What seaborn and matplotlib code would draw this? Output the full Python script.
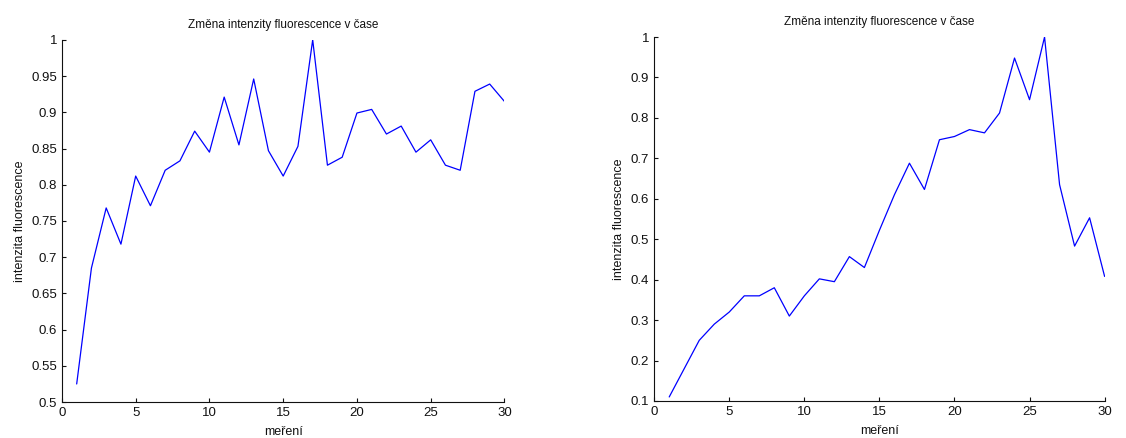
import numpy as np
import pandas as pd
import matplotlib
matplotlib.use("Agg")
import matplotlib.pyplot as plt
import seaborn as sns

# ================= Data =================
mereni = list(range(1, 31))
intenzita_a = [0.525, 0.685, 0.768, 0.718, 0.812, 0.771, 0.820, 0.833, 0.874, 0.845,
               0.921, 0.855, 0.946, 0.847, 0.812, 0.853, 1.000, 0.827, 0.838, 0.899,
               0.904, 0.870, 0.881, 0.845, 0.862, 0.827, 0.820, 0.929, 0.939, 0.915]
intenzita_b = [0.110, 0.180, 0.250, 0.290, 0.320, 0.360, 0.360, 0.380, 0.310, 0.360,
               0.402, 0.395, 0.457, 0.430, 0.522, 0.610, 0.688, 0.623, 0.746, 0.754,
               0.771, 0.763, 0.812, 0.948, 0.845, 1.000, 0.635, 0.483, 0.553, 0.408]

title = "Změna intenzity fluorescence v čase"
xlabel = "meření"
ylabel = "intenzita fluorescence"

sns.set_style("ticks")
plt.rcParams["font.family"] = ["Liberation Sans", "DejaVu Sans"]
plt.rcParams["xtick.direction"] = "in"
plt.rcParams["ytick.direction"] = "in"


def plot_panel(ax, y, ylim, yticks, ytick_labels):
    df = pd.DataFrame({"x": mereni, "y": y})
    sns.lineplot(data=df, x="x", y="y", color="#0000ff", linewidth=0.9, ax=ax)
    ax.set_xlim(0, 30)
    ax.set_ylim(*ylim)
    ax.set_xticks([0, 5, 10, 15, 20, 25, 30])
    ax.set_yticks(yticks)
    ax.set_yticklabels(ytick_labels)
    ax.set_title(title, fontsize=8.5, pad=8.5, color="#111111")
    ax.set_xlabel(xlabel, fontsize=9, labelpad=5, color="#111111")
    ax.set_ylabel(ylabel, fontsize=9, labelpad=4, color="#111111")
    ax.tick_params(axis="both", labelsize=9.5, length=3, width=0.8, colors="#111111")
    for spine in ["left", "bottom"]:
        ax.spines[spine].set_linewidth(0.8)
        ax.spines[spine].set_color("#111111")
    sns.despine(ax=ax)


fig = plt.figure(figsize=(11.26, 4.38), dpi=100)
ax1 = fig.add_axes([0.055, 0.082, 0.393, 0.827])
ax2 = fig.add_axes([0.581, 0.0845, 0.400, 0.831])

yt1 = [0.5, 0.55, 0.6, 0.65, 0.7, 0.75, 0.8, 0.85, 0.9, 0.95, 1.0]
plot_panel(ax1, intenzita_a, (0.5, 1.0), yt1, [f"{v:g}" for v in yt1])

yt2 = [0.1, 0.2, 0.3, 0.4, 0.5, 0.6, 0.7, 0.8, 0.9, 1.0]
plot_panel(ax2, intenzita_b, (0.1, 1.0), yt2, [f"{v:g}" for v in yt2])

fig.savefig("out.png", dpi=100)
